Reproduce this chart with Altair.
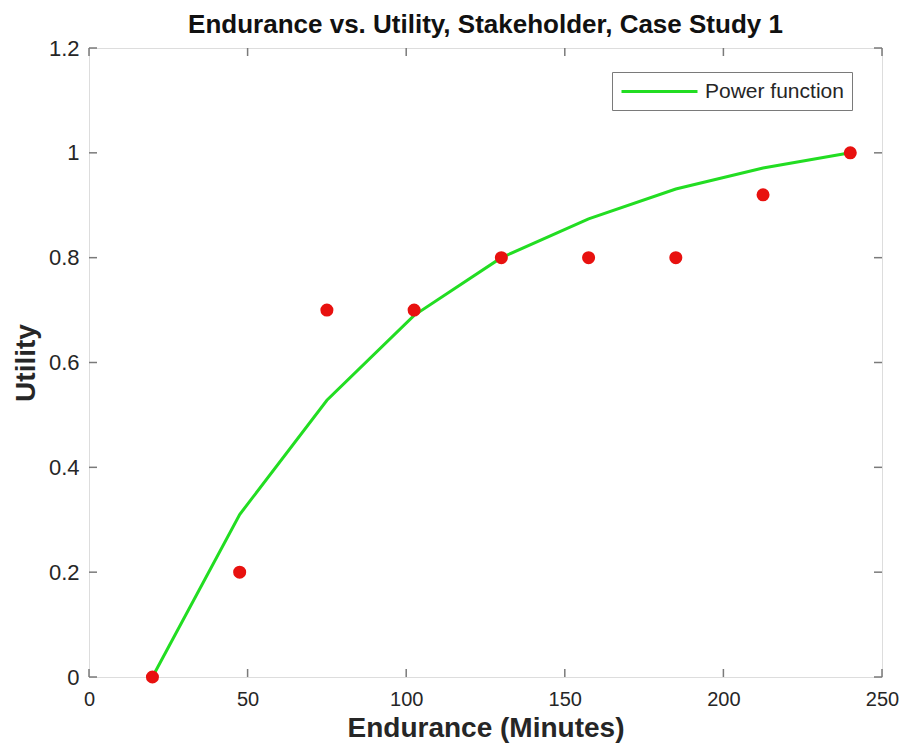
import altair as alt
import pandas as pd

# Data
endurance = [20, 47.5, 75, 102.5, 130, 157.5, 185, 212.5, 240]
utility = [0, 0.2, 0.7, 0.7, 0.8, 0.8, 0.8, 0.92, 1.0]
power_fit = [0, 0.31, 0.528, 0.69, 0.80, 0.874, 0.931, 0.971, 1.0]
x_ticks = [0, 50, 100, 150, 200, 250]
y_ticks = [0, 0.2, 0.4, 0.6, 0.8, 1.0, 1.2]

W, H = 793, 629
FONT = "Liberation Sans, Arial, sans-serif"
AXIS_GRAY = "#7a7a7a"
TEXT = "#262626"

pts = pd.DataFrame({"Endurance": endurance, "Utility": utility})
fit = pd.DataFrame({"Endurance": endurance, "Utility": power_fit,
                    "series": ["Power function"] * len(endurance)})
xt = pd.DataFrame({"v": x_ticks})
yt = pd.DataFrame({"v": y_ticks})

xscale = alt.Scale(domain=[0, 250], nice=False, zero=False)
yscale = alt.Scale(domain=[0, 1.2], nice=False, zero=False)

xaxis = alt.Axis(values=x_ticks, title="Endurance (Minutes)", grid=False,
                 tickSize=0, domain=False, labelPadding=12, titlePadding=5,
                 labelFontSize=20, titleFontSize=28, labelColor=TEXT,
                 titleColor=TEXT, labelFont=FONT, titleFont=FONT,
                 titleFontWeight="bold", labelFlush=False)
yaxis = alt.Axis(values=y_ticks, title="Utility", grid=False, tickSize=0,
                 domain=False, labelPadding=10, titlePadding=8,
                 labelFontSize=22, titleFontSize=28, labelColor=TEXT,
                 titleColor=TEXT, labelFont=FONT, titleFont=FONT,
                 titleFontWeight="bold", labelFlush=False,
                 labelExpr="datum.value == 0 ? '0' : datum.value == 1 ? '1' : format(datum.value, '.1f')")

line = alt.Chart(fit).mark_line(strokeWidth=3).encode(
    x=alt.X("Endurance:Q", scale=xscale, axis=xaxis),
    y=alt.Y("Utility:Q", scale=yscale, axis=yaxis),
    color=alt.Color("series:N", scale=alt.Scale(range=["#22dd22"]),
                    legend=alt.Legend(title=None, orient="none", legendX=523,
                                      legendY=24, symbolType="M-1,0H6.6",
                                      symbolSize=400, symbolStrokeWidth=3,
                                      labelFontSize=21, labelFont=FONT,
                                      labelColor=TEXT, strokeColor=AXIS_GRAY,
                                      fillColor="white", padding=8,
                                      labelOffset=62)),
)

points = alt.Chart(pts).mark_circle(size=170, opacity=1, color="#e8110f").encode(
    x=alt.X("Endurance:Q", scale=xscale),
    y=alt.Y("Utility:Q", scale=yscale),
)

TL = 8
xb = alt.Chart(xt).mark_rule(color=AXIS_GRAY, strokeWidth=1.5).encode(
    x=alt.X("v:Q", scale=xscale), y=alt.value(H), y2=alt.value(H - TL))
xtp = alt.Chart(xt).mark_rule(color=AXIS_GRAY, strokeWidth=1.5).encode(
    x=alt.X("v:Q", scale=xscale), y=alt.value(0), y2=alt.value(TL))
yl = alt.Chart(yt).mark_rule(color=AXIS_GRAY, strokeWidth=1.5).encode(
    y=alt.Y("v:Q", scale=yscale), x=alt.value(0), x2=alt.value(TL))
yr = alt.Chart(yt).mark_rule(color=AXIS_GRAY, strokeWidth=1.5).encode(
    y=alt.Y("v:Q", scale=yscale), x=alt.value(W), x2=alt.value(W - TL))

chart = alt.layer(xb, xtp, yl, yr, line, points).properties(
    width=W, height=H,
    title=alt.Title("Endurance vs. Utility, Stakeholder, Case Study 1",
                    fontSize=26, font=FONT, fontWeight="bold", color="#111",
                    offset=-1, anchor="middle"),
    autosize=alt.AutoSizeParams(type="none"),
    padding={"left": 81, "top": 40, "right": 17, "bottom": 74},
).configure_view(stroke=AXIS_GRAY, strokeWidth=2).configure(background="white")

chart.save("out.html", embed_options={"renderer": "svg", "actions": False})
